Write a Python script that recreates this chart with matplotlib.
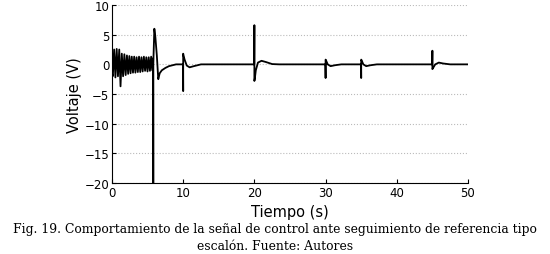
import numpy as np
import matplotlib.pyplot as plt

# control signal (time in s, voltage in V)
t_osc = [0.0, 0.12, 0.3, 0.48, 0.66, 0.84, 1.02, 1.2, 1.38, 1.56, 1.74, 1.92, 2.1,
         2.27, 2.44, 2.61, 2.78, 2.95, 3.12, 3.29, 3.46, 3.63, 3.8, 3.97, 4.14,
         4.31, 4.48, 4.65, 4.82, 4.99, 5.16, 5.33, 5.5, 5.65]
v_osc = [-1.5, -2.0, 2.5, -2.2, 2.6, -2.0, 2.5, -3.7, 1.8, -2.0, 1.7, -1.8, 1.5,
         -1.6, 1.4, -1.5, 1.3, -1.4, 1.3, -1.4, 1.2, -1.3, 1.3, -1.3, 1.2,
         -1.2, 1.3, -1.1, 1.2, -1.2, 1.2, -1.1, 1.3, -1.0]
t_rest = [5.78, 5.8, 5.8, 5.95, 6.1, 6.3, 6.5, 6.7, 7.0, 7.5, 8.0, 9.0, 9.98,
          10.0, 10.0, 10.04, 10.2, 10.5, 10.9, 11.5, 12.5, 13.5, 19.98,
          20.0, 20.0, 20.05, 20.2, 20.5, 21.0, 21.6, 22.5, 23.5, 29.98,
          30.0, 30.0, 30.05, 30.3, 30.7, 31.3, 32.2, 34.98,
          35.0, 35.0, 35.05, 35.3, 35.7, 36.3, 37.2, 44.98,
          45.0, 45.0, 45.05, 45.4, 45.9, 46.5, 47.5, 50.0]
v_rest = [1.0, -20.0, 0.0, 6.0, 4.5, 1.5, -2.5, -1.5, -1.0, -0.6, -0.3, 0.0, 0.0,
          -4.5, 1.8, 1.5, 0.8, -0.2, -0.5, -0.3, 0.0, 0.0, 0.0,
          6.6, -2.8, -2.5, -1.0, 0.3, 0.6, 0.4, 0.05, 0.0, 0.0,
          -2.3, 0.8, 0.7, 0.0, -0.3, -0.15, 0.0, 0.0,
          -2.3, 0.8, 0.7, 0.0, -0.3, -0.15, 0.0, 0.0,
          2.3, -0.8, -0.7, 0.0, 0.3, 0.15, 0.0, 0.0]

t = np.array(t_osc + t_rest)
v = np.array(v_osc + v_rest)

fig = plt.figure(figsize=(5.5, 2.55), dpi=100)
ax = fig.add_axes([0.2036, 0.278, 0.6473, 0.6985])
ax.plot(t, v, color='black', lw=1.3)

ax.set_xlim(0, 50)
ax.set_ylim(-20, 10)
ax.set_xticks([0, 10, 20, 30, 40, 50])
ax.set_yticks([-20, -15, -10, -5, 0, 5, 10])
ax.yaxis.grid(True, linestyle=':', color='#bbbbbb', lw=0.8)
ax.spines['top'].set_visible(False)
ax.spines['right'].set_visible(False)
ax.tick_params(direction='in', length=3, labelsize=8.5, pad=2)
ax.set_xlabel('Tiempo (s)', fontsize=10.5, labelpad=4)
ax.set_ylabel('Voltaje (V)', fontsize=10.5, labelpad=2)

fig.text(0.5, 0.1, 'Fig. 19. Comportamiento de la señal de control ante seguimiento de referencia tipo',
         ha='center', va='center', family='DejaVu Serif', fontsize=8.9)
fig.text(0.5, 0.035, 'escalón. Fuente: Autores',
         ha='center', va='center', family='DejaVu Serif', fontsize=8.9)

fig.savefig('out.png', dpi=100)
